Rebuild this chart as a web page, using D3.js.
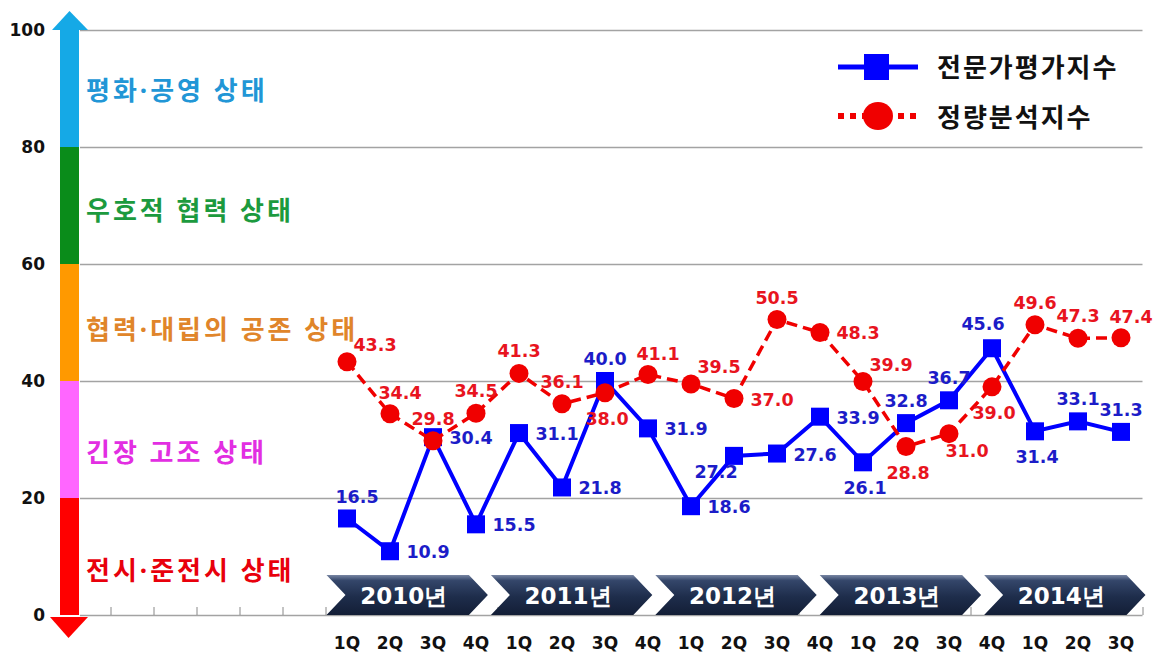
<!DOCTYPE html>
<html>
<head>
<meta charset="utf-8">
<script src="https://cdn.jsdelivr.net/npm/d3@7"></script>
<style>
  body { margin: 0; background: #fff; }
  svg { display: block; }
  .num { font-family: "DejaVu Sans", sans-serif; font-weight: bold; }
  .kr { font-family: "Noto Sans", "Noto Sans CJK KR", sans-serif; font-weight: bold; }
</style>
</head>
<body>
<svg width="1161" height="656"></svg>
<script>
const svg = d3.select("svg");

// data
const years = ["2010년", "2011년", "2012년", "2013년", "2014년"];
const quarters = ["1Q", "2Q", "3Q", "4Q", "1Q", "2Q", "3Q", "4Q", "1Q", "2Q", "3Q", "4Q",
  "1Q", "2Q", "3Q", "4Q", "1Q", "2Q", "3Q"];
const expertIndex = [16.5, 10.9, 30.4, 15.5, 31.1, 21.8, 40.0, 31.9, 18.6, 27.2, 27.6, 33.9,
  26.1, 32.8, 36.7, 45.6, 31.4, 33.1, 31.3];
const quantIndex = [43.3, 34.4, 29.8, 34.5, 41.3, 36.1, 38.0, 41.1, 39.5, 37.0, 50.5, 48.3,
  39.9, 28.8, 31.0, 39.0, 49.6, 47.3, 47.4];
const yTicks = [0, 20, 40, 60, 80, 100];
const zoneNames = ["전시·준전시 상태", "긴장 고조 상태", "협력·대립의 공존 상태", "우호적 협력 상태", "평화·공영 상태"];
const zoneBounds = [[0, 20], [20, 40], [40, 60], [60, 80], [80, 100]];
const seriesNames = ["전문가평가지수", "정량분석지수"];

// where each value label sits relative to its marker
const expertLabelPos = ["tR", "r", "r", "r", "r", "r", "t", "r", "r", "bL", "r", "r", "b", "t", "t", "tL", "b", "t", "t"];
const quantLabelPos = ["tr", "tR", "t", "t", "t", "t", "b", "tR", "tr", "r", "t", "r", "tr", "b", "bR", "b", "t", "t", "tR"];
const labelOffset = {
  t: [0, -22], tR: [10, -21], tL: [-9, -24], tr: [28, -17], r: [38, 1],
  b: [2, 26], bL: [-18, 16], bR: [18, 17]
};

const zoneBar = ["#ff0000", "#ff66ff", "#ff9900", "#0a8c1a", "#15a9e6"];
const zoneText = ["#e8000c", "#e22ee2", "#e0852a", "#1c9a3e", "#2196d6"];
const zoneLabelShift = [13, 12, 6, 4, 1];

const x = d3.scaleLinear().domain([-6.5, 18.5]).range([67.5, 1142.5]);
const y = d3.scaleLinear().domain([0, 100]).range([615, 30]);

const defs = svg.append("defs");
const grad = defs.append("linearGradient").attr("id", "chev")
  .attr("x1", 0).attr("y1", 0).attr("x2", 0).attr("y2", 1);
[["0%", "#7886a3"], ["14%", "#34466a"], ["55%", "#1e2d4b"], ["100%", "#131e36"]]
  .forEach(([o, c]) => grad.append("stop").attr("offset", o).attr("stop-color", c));

// gridlines + y labels
const gridLeft = 80;
svg.append("g")
  .attr("transform", `translate(${gridLeft},0)`)
  .call(d3.axisLeft(y).tickValues(yTicks).tickSize(-(x.range()[1] - gridLeft)).tickPadding(35))
  .call(g => g.select(".domain").remove())
  .call(g => g.selectAll("line").attr("stroke", "#a3a3a3").attr("stroke-width", 1.3))
  .call(g => g.selectAll("text").attr("class", "num").attr("fill", "#111")
    .style("font-size", "17px"));

// small category ticks on the zero line
svg.append("g")
  .attr("transform", `translate(0,${y(0)})`)
  .call(d3.axisTop(x).tickValues(d3.range(-5.5, 19, 1)).tickSize(8).tickFormat(""))
  .call(g => g.select(".domain").remove())
  .call(g => g.selectAll("line").attr("stroke", "#888"));

// colour bar with arrows
const barX = 60, barW = 19;
svg.append("g").selectAll("rect")
  .data(zoneBounds)
  .join("rect")
  .attr("x", barX).attr("width", barW)
  .attr("y", d => y(d[1])).attr("height", d => y(d[0]) - y(d[1]))
  .attr("fill", (d, i) => zoneBar[i]);
svg.append("path")
  .attr("d", `M${barX - 8},${y(100)} L${barX + barW + 9},${y(100)} L${barX + barW / 2},${y(100) - 19}Z`)
  .attr("fill", zoneBar[4]);
svg.append("path")
  .attr("d", `M${barX - 10},${y(0) + 2} L${barX + barW + 9},${y(0) + 2} L${barX + barW / 2 - 1},${y(0) + 23}Z`)
  .attr("fill", zoneBar[0]);

// zone labels
svg.append("g").selectAll("text")
  .data(zoneNames)
  .join("text")
  .attr("class", "kr")
  .attr("x", 86)
  .attr("y", (d, i) => y((zoneBounds[i][0] + zoneBounds[i][1]) / 2) + zoneLabelShift[i])
  .attr("dominant-baseline", "central")
  .attr("fill", (d, i) => zoneText[i])
  .style("font-size", "26px")
  .style("letter-spacing", "3px")
  .text(d => d);

// year chevrons
const band = d3.scaleBand().domain(years).range([x(-0.5), x(18.5) + 5]);
const chevTop = 575, chevBot = 615, tip = 19;
const chev = svg.append("g").selectAll("g").data(years).join("g");
chev.append("path")
  .attr("d", d => {
    const x0 = band(d) + 1, x1 = band(d) + band.bandwidth() - 2, m = (chevTop + chevBot) / 2;
    return `M${x0},${chevTop} L${x1 - tip},${chevTop} L${x1},${m} L${x1 - tip},${chevBot} L${x0},${chevBot} L${x0 + tip},${m}Z`;
  })
  .attr("fill", "url(#chev)");
chev.append("text")
  .attr("class", "num")
  .attr("x", d => band(d) + band.bandwidth() / 2 - 4)
  .attr("y", (chevTop + chevBot) / 2 + 1)
  .attr("dominant-baseline", "central")
  .attr("text-anchor", "middle")
  .attr("fill", "#fff")
  .style("font-size", "23px")
  .text(d => d);

// quarter labels
svg.append("g").selectAll("text")
  .data(quarters)
  .join("text")
  .attr("class", "num")
  .attr("x", (d, i) => x(i))
  .attr("y", 649)
  .attr("text-anchor", "middle")
  .attr("fill", "#111")
  .style("font-size", "17px")
  .text(d => d);

// series
const line = d3.line().x((d, i) => x(i)).y(d => y(d));

svg.append("path")
  .datum(expertIndex)
  .attr("d", line)
  .attr("fill", "none")
  .attr("stroke", "#0000ff")
  .attr("stroke-width", 4);
svg.append("g").selectAll("rect")
  .data(expertIndex)
  .join("rect")
  .attr("x", (d, i) => x(i) - 9).attr("y", d => y(d) - 9)
  .attr("width", 18).attr("height", 18)
  .attr("fill", "#0000ff");

svg.append("path")
  .datum(quantIndex)
  .attr("d", line)
  .attr("fill", "none")
  .attr("stroke", "#f00000")
  .attr("stroke-width", 3.5)
  .attr("stroke-dasharray", "11,6");
svg.append("g").selectAll("circle")
  .data(quantIndex)
  .join("circle")
  .attr("cx", (d, i) => x(i)).attr("cy", d => y(d))
  .attr("r", 9.5)
  .attr("fill", "#f00000");

function valueLabels(values, pos, color) {
  svg.append("g").selectAll("text")
    .data(values)
    .join("text")
    .attr("class", "num")
    .attr("x", (d, i) => x(i) + labelOffset[pos[i]][0])
    .attr("y", (d, i) => y(d) + labelOffset[pos[i]][1])
    .attr("text-anchor", "middle")
    .attr("dominant-baseline", "central")
    .attr("fill", color)
    .style("font-size", "17.5px")
    .text(d => d.toFixed(1));
}
valueLabels(expertIndex, expertLabelPos, "#1c1cc8");
valueLabels(quantIndex, quantLabelPos, "#e8141e");

// legend
const lg = svg.append("g").attr("transform", "translate(838,0)");
lg.append("line").attr("x1", 0).attr("x2", 80).attr("y1", 67).attr("y2", 67)
  .attr("stroke", "#0000ff").attr("stroke-width", 5);
lg.append("rect").attr("x", 26).attr("y", 54).attr("width", 25).attr("height", 26).attr("fill", "#0000ff");
lg.append("line").attr("x1", 0).attr("x2", 84).attr("y1", 116).attr("y2", 116)
  .attr("stroke", "#f00000").attr("stroke-width", 6).attr("stroke-dasharray", "6,6");
lg.append("ellipse").attr("cx", 40).attr("cy", 116).attr("rx", 15).attr("ry", 14).attr("fill", "#f00000");
lg.selectAll("text.leg")
  .data(seriesNames)
  .join("text")
  .attr("class", "kr leg")
  .attr("x", 99)
  .attr("y", (d, i) => 67 + i * 50)
  .attr("dominant-baseline", "central")
  .attr("fill", "#111")
  .style("font-size", "26px")
  .style("letter-spacing", "2px")
  .text(d => d);
</script>
</body>
</html>
